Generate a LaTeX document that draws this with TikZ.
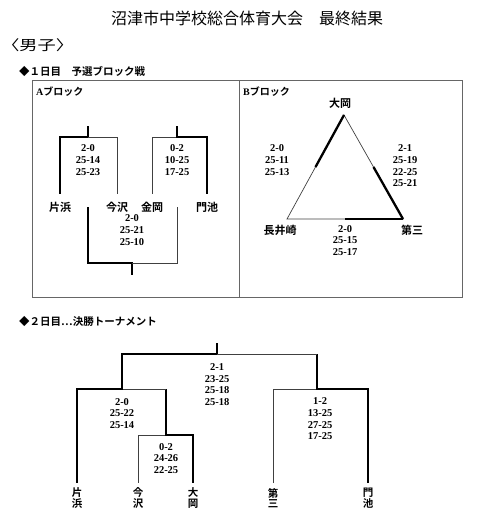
\documentclass[tikz,border=0pt]{standalone}
\usepackage{fontspec}
\setmainfont{Liberation Serif}
\newfontfamily\jp{Noto Sans CJK JP}[BoldFont={Noto Sans CJK JP Bold}]
\usetikzlibrary{calc}

\begin{document}
\begin{tikzpicture}[x=1pt, y=-1pt,
    fin/.style={line width=0.7pt, black!75},
    gras/.style={line width=2.3pt, black},
    cadre/.style={line width=0.8pt, gray!80!black},
    score/.style={font=\bfseries\fontsize{10.5}{11.7}\selectfont, align=center, inner sep=0pt},
    nom/.style={font=\jp\bfseries\fontsize{11}{11}\selectfont, inner sep=0pt, outer sep=8pt},
    nomv/.style={font=\jp\bfseries\fontsize{10.5}{10.5}\selectfont, align=center, inner sep=0pt, outer sep=5pt},
    rubrique/.style={font=\jp\bfseries\fontsize{10.5}{10.5}\selectfont, anchor=west, inner sep=0pt},
    poule/.style={font=\jp\bfseries\fontsize{10}{10}\selectfont, anchor=west, inner sep=0pt}]

    % Cadre de la page (proportions de l'image)
    \useasboundingbox (0,0) rectangle (480,522);

    % En-tete
    \node[font=\jp\fontsize{16}{16}\selectfont] (titre) at (247,18) {沼津市中学校総合体育大会　最終結果};
    \node[font=\jp\fontsize{14}{14}\selectfont, xscale=1.3, anchor=west, inner sep=0pt] (sexe) at (1,45) {〈男子〉};
    \node[rubrique] (jour1) at (19,72) {◆１日目　予選ブロック戦};

    % Cadre des deux poules
    \draw[cadre] (32,80) rectangle (462,297);
    \draw[cadre] (239,80) -- (239,297);

    % ---- Poule A : deux matchs puis la rencontre des perdants/gagnants
    \node[poule] (pa) at (36,92) {{\rmfamily A}ブロック};
    \node[nom] (hama) at (60,207) {片浜};
    \node[nom] (imaz) at (117,207) {今沢};
    \node[nom] (kana) at (152,207) {金岡};
    \node[nom] (kado) at (207,207) {門池};

    % Points de jonction des matchs
    \coordinate (m1) at (88,137);
    \coordinate (m1h) at (88,126);
    \coordinate (m2) at (177,137);
    \coordinate (m2h) at (177,126);

    \draw[gras] (hama.north) |- (m1) -- (m1h);
    \draw[fin] (imaz.north) |- (m1);
    \draw[fin] (kana.north) |- (m2);
    \draw[gras] (kado.north) |- (m2) -- (m2h);

    \node[score] (sa1) at (88,160) {2-0\\25-14\\25-23};
    \node[score] (sa2) at (177,160) {0-2\\10-25\\17-25};

    % Match du bas (crochet retourne)
    \coordinate (b1) at (88,207);
    \coordinate (b2) at (177,207);
    \coordinate (m3) at (132,263);
    \coordinate (m3b) at (132,275);
    \draw[gras] (b1) |- (m3) -- (m3b);
    \draw[fin] (b2) |- (m3);
    \node[score] (sa3) at (132,230) {2-0\\25-21\\25-10};

    % ---- Poule B : triangle, le trait epais marque le vainqueur
    \node[poule] (pb) at (243,92) {{\rmfamily B}ブロック};
    \coordinate (ta) at (344,115);
    \coordinate (tg) at (287,219);
    \coordinate (td) at (403,219);
    \node[nom, outer sep=0pt] (ooka) at (340,103) {大岡};
    \node[nom, outer sep=0pt] (naga) at (280,230) {長井崎};
    \node[nom, outer sep=0pt] (dai3) at (412,230) {第三};

    \draw[fin] (ta) -- (tg) -- (td) -- cycle;
    \draw[gras] (ta) -- ($(ta)!0.5!(tg)$);
    \draw[gras] (td) -- ($(td)!0.5!(ta)$);
    \draw[gras] (td) -- ($(td)!0.5!(tg)$);

    \node[score] (sb1) at (277,160) {2-0\\25-11\\25-13};
    \node[score] (sb2) at (405,166) {2-1\\25-19\\22-25\\25-21};
    \node[score] (sb3) at (345,240.5) {2-0\\25-15\\25-17};

    % ---- 2e jour : tableau final
    \node[rubrique] (jour2) at (19,322) {◆２日目…決勝トーナメント};

    % Equipes, ecrites verticalement
    \foreach \nm/\a/\b/\x in {t-hama/片/浜/77, t-imaz/今/沢/138, t-ooka/大/岡/193, t-dai3/第/三/273, t-kado/門/池/368} {
        \node[nomv] (\nm) at (\x,498) {\a\\\b};
    }

    % Jonctions du tableau
    \coordinate (q1) at (166,435);
    \coordinate (d1) at (122,389);
    \coordinate (d2) at (317,389);
    \coordinate (f) at (217,354);
    \coordinate (fh) at (217,343);

    % Quart : 今沢 - 大岡
    \draw[fin] (t-imaz.north) |- (q1);
    \draw[gras] (t-ooka.north) |- (q1) -- (q1 |- d1);
    % Demi gauche
    \draw[fin] (q1 |- d1) -- (d1);
    \draw[gras] (t-hama.north) |- (d1) -- (d1 |- f) -- (f);
    % Demi droite
    \draw[fin] (t-dai3.north) |- (d2);
    \draw[gras] (t-kado.north) |- (d2) -- (d2 |- f);
    % Finale
    \draw[fin] (f) -- (d2 |- f);
    \draw[gras] (f) -- (fh);

    \node[score] (sf) at (217,384.5) {2-1\\23-25\\25-18\\25-18};
    \node[score] (sd1) at (122,413.5) {2-0\\25-22\\25-14};
    \node[score] (sq1) at (166,458.5) {0-2\\24-26\\22-25};
    \node[score] (sd2) at (320,419) {1-2\\13-25\\27-25\\17-25};

\end{tikzpicture}
\end{document}
